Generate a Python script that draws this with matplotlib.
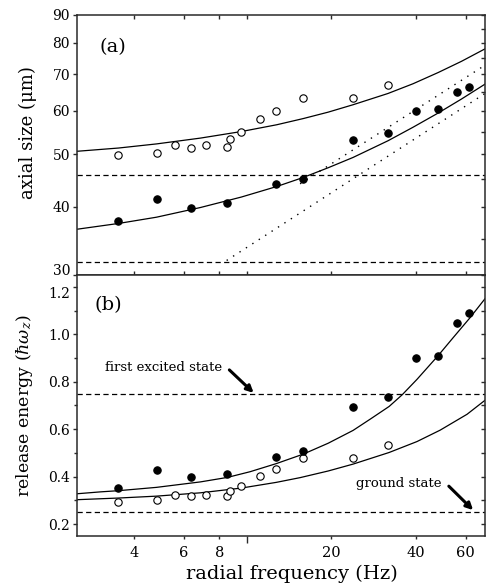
import matplotlib
matplotlib.use('Agg')
import matplotlib.pyplot as plt
from matplotlib.ticker import FixedLocator, FixedFormatter, NullLocator, NullFormatter

plt.rcParams['font.family'] = ['DejaVu Serif']
plt.rcParams['mathtext.fontset'] = 'dejavuserif'

# ---------------- data ----------------
freq_open = [3.51, 4.79, 5.59, 6.37, 7.20, 8.55, 8.76, 9.58, 11.2, 12.75, 15.9, 23.9, 31.8]
size_open = [49.8, 50.3, 52.0, 51.4, 52.0, 51.6, 53.4, 54.8, 58.1, 60.1, 63.3, 63.3, 66.9]
energy_open = [0.294, 0.303, 0.322, 0.317, 0.324, 0.318, 0.339, 0.359, 0.404, 0.431, 0.477, 0.480, 0.535]

freq_filled = [3.51, 4.79, 6.37, 8.55, 12.75, 15.9, 23.9, 31.8, 40.0, 47.9, 55.9, 61.6]
size_filled = [37.7, 41.4, 39.9, 40.6, 44.1, 45.1, 53.0, 54.6, 60.1, 60.6, 65.0, 66.3]
energy_filled = [0.351, 0.427, 0.397, 0.410, 0.481, 0.508, 0.694, 0.736, 0.900, 0.909, 1.048, 1.090]

# theory curves
curve_f_a = [2.5, 3.51, 4.79, 6.86, 9.58, 12.8, 15.9, 19.5, 23.9, 31.8, 39.0, 48.0, 58.0, 70.3]
curve_a_upper = [50.6, 51.3, 52.2, 53.5, 55.0, 56.6, 58.1, 59.7, 61.6, 64.6, 67.3, 70.6, 74.0, 78.0]
curve_a_lower = [36.4, 37.3, 38.3, 39.9, 41.7, 43.6, 45.3, 47.2, 49.3, 52.9, 56.0, 59.5, 63.1, 67.2]

dotted_lo_f = [8.5, 70.3]
dotted_lo_size = [31.9, 64.6]
dotted_hi_f = [15.5, 70.3]
dotted_hi_size = [44.1, 72.8]

dashed_a = [45.8, 31.7]

curve_f_b_lower = [2.5, 3.51, 4.79, 6.86, 9.58, 12.75, 15.5, 19.5, 23.9, 32.1, 40.3, 48.7, 60.7, 70.3]
curve_b_lower = [0.303, 0.310, 0.318, 0.332, 0.352, 0.376, 0.396, 0.424, 0.453, 0.502, 0.548, 0.596, 0.663, 0.722]
curve_f_b_upper = [2.5, 3.03, 3.51, 4.79, 6.86, 8.56, 10.3, 12.75, 15.9, 19.5, 23.9, 27.7,
                   32.1, 35.7, 40.3, 47.9, 54.1, 62.2, 70.3]
curve_b_upper = [0.328, 0.336, 0.341, 0.355, 0.378, 0.397, 0.421, 0.455, 0.495, 0.541, 0.595, 0.645,
                 0.696, 0.745, 0.810, 0.910, 0.985, 1.070, 1.150]

dashed_b = [0.75, 0.25]

x_ticks = [4, 6, 8, 20, 40, 60]
x_tick_labels = ['4', '6', '8', '20', '40', '60']
y_ticks_a = [30, 40, 50, 60, 70, 80, 90]
y_ticks_a_minor = [35, 45, 55, 65, 75, 85]
y_ticks_b = [0.2, 0.4, 0.6, 0.8, 1.0, 1.2]
y_ticks_b_minor = [0.3, 0.5, 0.7, 0.9, 1.1]

# ---------------- figure ----------------
W, H = 487, 586
fig = plt.figure(figsize=(W / 100, H / 100), dpi=100)
L, R = 77, 485
ax1 = fig.add_axes([L / W, 1 - 275 / H, (R - L) / W, 260 / H])
ax2 = fig.add_axes([L / W, 1 - 536 / H, (R - L) / W, 261 / H], sharex=ax1)

spine_c = '#2a2a2a'
for ax in (ax1, ax2):
    for s in ax.spines.values():
        s.set_linewidth(1.1)
        s.set_color(spine_c)

ms = 5.3
lw_curve = 0.9
dash = (0, (4.2, 2.7))
dot = (0, (1, 4.5))
tick_fs = 10

# ---- panel (a)
ax1.set_xscale('log')
ax1.set_yscale('log')
ax1.set_xlim(2.5, 70.3)
ax1.set_ylim(30, 90)
for v in dashed_a:
    ax1.axhline(v, color='k', lw=0.9, linestyle=dash)
ax1.plot(curve_f_a, curve_a_upper, color='k', lw=lw_curve)
ax1.plot(curve_f_a, curve_a_lower, color='k', lw=lw_curve)
ax1.plot(dotted_lo_f, dotted_lo_size, color='k', lw=1.0, linestyle=dot)
ax1.plot(dotted_hi_f, dotted_hi_size, color='k', lw=1.0, linestyle=dot)
ax1.plot(freq_open, size_open, 'o', ms=ms, mfc='white', mec='k', mew=0.8, zorder=5)
ax1.plot(freq_filled, size_filled, 'o', ms=ms, mfc='k', mec='k', mew=0.8, zorder=5)

ax1.yaxis.set_major_locator(FixedLocator(y_ticks_a))
ax1.yaxis.set_major_formatter(FixedFormatter([str(v) for v in y_ticks_a]))
ax1.yaxis.set_minor_locator(NullLocator())
ax1.yaxis.set_minor_formatter(NullFormatter())
ax1.tick_params(axis='y', which='major', direction='out', length=3, width=1,
                labelsize=tick_fs, pad=2, colors=spine_c, labelcolor='k')
ax1.set_ylabel('axial size (\u03bcm)', fontsize=13)
ax1.yaxis.set_label_coords(-0.099, 0.548)
ax1.text(0.088, 0.877, '(a)', transform=ax1.transAxes, fontsize=14,
         ha='center', va='center')

ax1r = ax1.twinx()
ax1r.set_yscale('log')
ax1r.set_ylim(30, 90)
ax1r.yaxis.set_major_locator(FixedLocator(y_ticks_a))
ax1r.yaxis.set_minor_locator(FixedLocator(y_ticks_a_minor))
ax1r.yaxis.set_major_formatter(NullFormatter())
ax1r.yaxis.set_minor_formatter(NullFormatter())
ax1r.tick_params(axis='y', which='both', direction='in', length=3, width=1, colors=spine_c)
for s in ax1r.spines.values():
    s.set_visible(False)

# ---- panel (b)
ax2.set_ylim(0.15, 1.25)
for v in dashed_b:
    ax2.axhline(v, color='k', lw=0.9, linestyle=dash)
ax2.plot(curve_f_b_lower, curve_b_lower, color='k', lw=lw_curve)
ax2.plot(curve_f_b_upper, curve_b_upper, color='k', lw=lw_curve)
ax2.plot(freq_open, energy_open, 'o', ms=ms, mfc='white', mec='k', mew=0.8, zorder=5)
ax2.plot(freq_filled, energy_filled, 'o', ms=ms, mfc='k', mec='k', mew=0.8, zorder=5)

ax2.yaxis.set_major_locator(FixedLocator(y_ticks_b))
ax2.yaxis.set_major_formatter(FixedFormatter(['%.1f' % v for v in y_ticks_b]))
ax2.yaxis.set_minor_locator(FixedLocator(y_ticks_b_minor))
ax2.tick_params(axis='y', which='major', direction='out', length=3, width=1,
                labelsize=tick_fs, pad=2, colors=spine_c, labelcolor='k')
ax2.tick_params(axis='y', which='minor', direction='out', length=2.5, width=1, colors=spine_c)
ax2.set_ylabel('release energy ($\\hbar\\omega_z$)', fontsize=12.5)
ax2.yaxis.set_label_coords(-0.103, 0.499)
ax2.text(0.076, 0.885, '(b)', transform=ax2.transAxes, fontsize=14,
         ha='center', va='center')

ax2r = ax2.twinx()
ax2r.set_ylim(0.15, 1.25)
ax2r.yaxis.set_major_locator(FixedLocator(y_ticks_b))
ax2r.yaxis.set_minor_locator(FixedLocator(y_ticks_b_minor))
ax2r.yaxis.set_major_formatter(NullFormatter())
ax2r.tick_params(axis='y', which='both', direction='in', length=3, width=1, colors=spine_c)
for s in ax2r.spines.values():
    s.set_visible(False)

# x axis: 10 is an unlabelled long tick, others labelled short ticks
for ax in (ax1, ax2):
    ax.xaxis.set_major_locator(FixedLocator([10]))
    ax.xaxis.set_major_formatter(NullFormatter())
    ax.xaxis.set_minor_locator(FixedLocator(x_ticks))
    ax.xaxis.set_minor_formatter(FixedFormatter(x_tick_labels))
ax1.tick_params(axis='x', which='both', direction='in', top=True, bottom=True,
                labelbottom=False, length=3, width=1, colors=spine_c)
ax2.tick_params(axis='x', which='major', direction='out', top=False, bottom=True,
                length=5, width=1, colors=spine_c)
ax2.tick_params(axis='x', which='minor', direction='out', top=False, bottom=True,
                length=2.5, width=1, labelsize=tick_fs + 0.5, pad=5, colors=spine_c,
                labelcolor='k')
ax2.set_xlabel('radial frequency (Hz)', fontsize=14)
ax2.xaxis.set_label_coords(0.526, -0.112)
ax2.xaxis.label.set_va('top')

# keep the "30" and "1.2" labels at the panel junction from colliding
ax1.yaxis.get_major_ticks()[0].label1.set_va('baseline')
ax2.yaxis.get_major_ticks()[-1].label1.set_va('top')

# annotations
ax2.annotate('', xy=(10.6, 0.753), xytext=(8.69, 0.85),
             arrowprops=dict(arrowstyle='-|>', color='k', lw=2.2,
                             mutation_scale=10, shrinkA=0, shrinkB=0))
ax2.text(8.2, 0.862, 'first excited state', fontsize=9.5, ha='right', va='center')
ax2.annotate('', xy=(63.8, 0.259), xytext=(52.3, 0.36),
             arrowprops=dict(arrowstyle='-|>', color='k', lw=2.2,
                             mutation_scale=10, shrinkA=0, shrinkB=0))
ax2.text(49.4, 0.373, 'ground state', fontsize=9.5, ha='right', va='center')

fig.savefig('out.png', dpi=100)
